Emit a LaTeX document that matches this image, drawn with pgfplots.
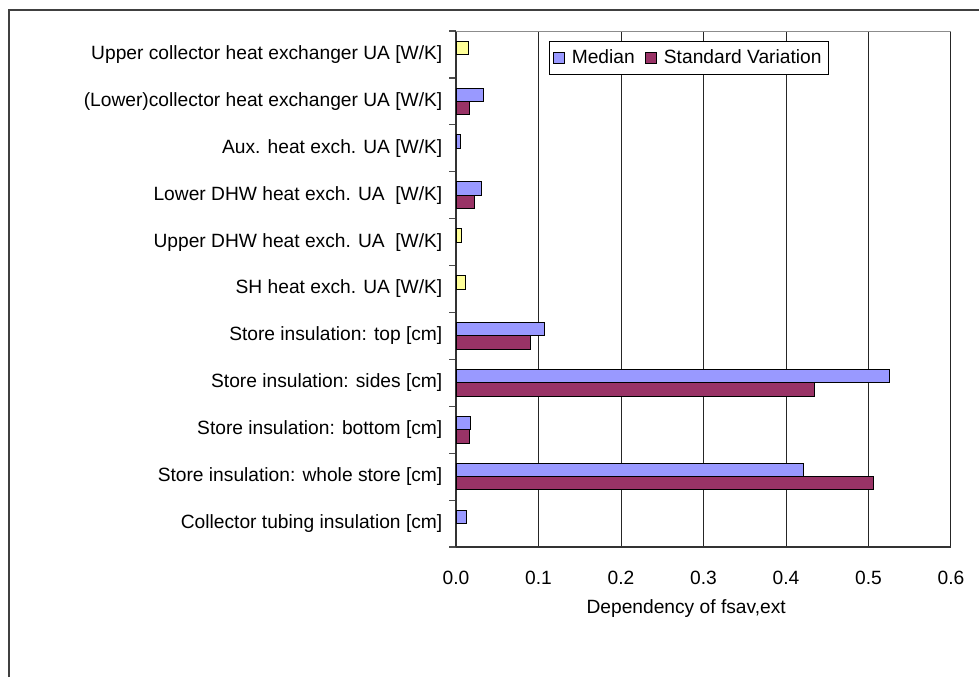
\documentclass[border=0pt]{standalone}
\usepackage{fontspec}
\setmainfont{Liberation Sans}
\usepackage{pgfplots}
\pgfplotsset{compat=1.18}
\definecolor{medc}{HTML}{9999FF}
\definecolor{stdc}{HTML}{993366}
\definecolor{yelc}{HTML}{FFFF99}
\begin{document}
\begin{tikzpicture}
\useasboundingbox (0,0) rectangle (489.5pt,-338.5pt);
\begin{axis}[
  at={(228pt,-273.5pt)}, anchor=south west,
  scale only axis, width=247.5pt, height=258pt,
  font=\fontsize{9.6pt}{11pt}\selectfont,
  xbar, bar width=6.67pt,
  xmin=0, xmax=0.6, ymin=-0.5, ymax=10.5,
  xtick={0,0.1,...,0.6},
  ytick={0,...,10},
  minor ytick={-0.5,0.5,...,10.5},
  yticklabels={
    Collector tubing insulation [cm],
    Store insulation: whole store [cm],
    Store insulation: bottom [cm],
    Store insulation: sides [cm],
    Store insulation: top [cm],
    SH heat exch. UA [W/K],
    Upper DHW heat exch. UA\ \ [W/K],
    Lower DHW heat exch. UA\ \ [W/K],
    Aux. heat exch. UA [W/K],
    (Lower)collector heat exchanger UA [W/K],
    Upper collector heat exchanger UA [W/K]},
  axis lines*=left,
  axis line style={black!80, line width=0.6pt},
  tick align=outside,
  major tick length=0pt,
  minor tick length=3.5pt,
  minor tick style={black!70, line width=0.6pt},
  xmajorgrids,
  major grid style={black!85, line width=0.5pt},
  /pgf/number format/assume math mode=true,
  xticklabel style={/pgf/number format/fixed, /pgf/number format/fixed zerofill, /pgf/number format/precision=1, yshift=-8.3pt},
  yticklabel style={xshift=-3.3pt, align=right},
  xlabel={Dependency of fsav,ext},
  xlabel style={at={(axis description cs:0.465,0)}, anchor=center, yshift=-30.7pt},
  legend columns=2,
  legend style={at={(0.188,0.981)}, anchor=north west, draw=black, line width=0.5pt,
    font=\fontsize{9.6pt}{11pt}\selectfont,
    inner xsep=1.5pt, inner ysep=2pt,
    /tikz/every odd column/.append style={column sep=1.5pt},
    /tikz/every even column/.append style={column sep=3pt}},
  legend image code/.code={\draw[#1, draw=black, line width=0.5pt] (0pt,-2.8pt) rectangle (5.6pt,2.8pt);},
]
\addplot[fill=medc, draw=black, line width=0.5pt, bar shift=3.33pt] coordinates {
  (0.0125,0) (0.421,1) (0.0178,2) (0.526,3) (0.1067,4)
  (0.0307,7) (0.005,8) (0.0336,9)};
\addlegendentry{Median}
\addplot[fill=stdc, draw=black, line width=0.5pt, bar shift=-3.33pt] coordinates {
  (0.5065,1) (0.0162,2) (0.434,3) (0.090,4)
  (0.0222,7) (0.0162,9)};
\addlegendentry{Standard Variation}
\addplot[fill=yelc, draw=black, line width=0.5pt, bar shift=3.33pt, forget plot] coordinates {
  (0.0113,5) (0.0065,6) (0.0146,10)};
\draw[black!45, line width=0.6pt] (rel axis cs:0,1) -- (rel axis cs:1,1);
\end{axis}
\draw[black!75, line width=1pt] (4.25pt,-338.5pt) -- (4.25pt,-4.75pt) -- (489.5pt,-4.75pt);
\end{tikzpicture}
\end{document}
